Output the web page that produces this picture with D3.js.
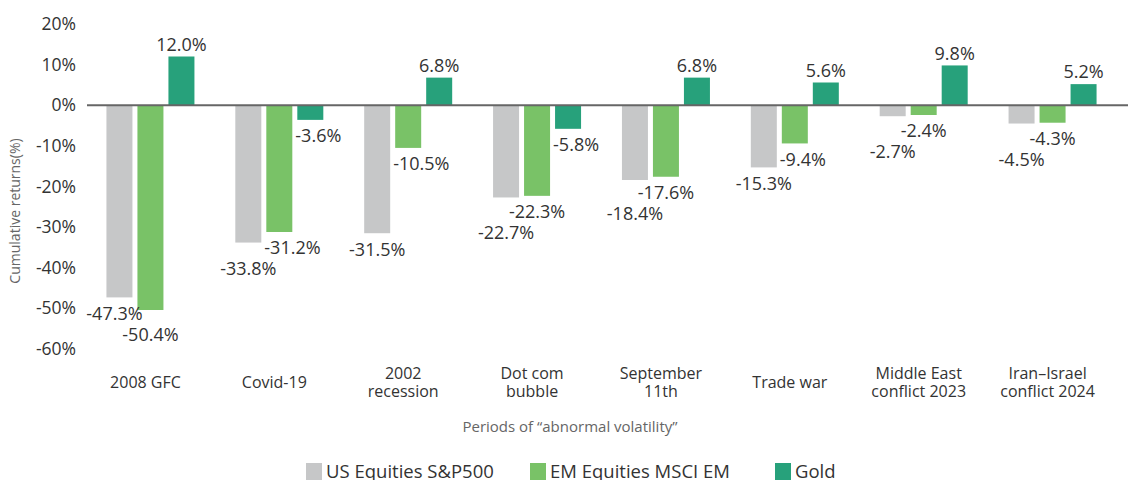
<!DOCTYPE html>
<html><head><meta charset="utf-8">
<script src="https://cdn.jsdelivr.net/npm/d3@7"></script>
<style>
html,body{margin:0;padding:0;background:#fff;}
svg{display:block;font-family:"Open Sans",sans-serif;}
</style></head>
<body>
<svg id="chart" width="1128" height="480"></svg>
<script>
const categories = [["2008 GFC"],["Covid-19"],["2002","recession"],["Dot com","bubble"],["September","11th"],["Trade war"],["Middle East","conflict 2023"],["Iran\u2013Israel","conflict 2024"]];
const seriesNames = ["US Equities S&P500","EM Equities MSCI EM","Gold"];
const usEquities = [-47.3,-33.8,-31.5,-22.7,-18.4,-15.3,-2.7,-4.5];
const emEquities = [-50.4,-31.2,-10.5,-22.3,-17.6,-9.4,-2.4,-4.3];
const gold = [12.0,-3.6,6.8,-5.8,6.8,5.6,9.8,5.2];
const yTicks = [20,10,0,-10,-20,-30,-40,-50,-60];
const colors = ["#c6c7c8","#79c267","#27a17b"];

const svg = d3.select("#chart");
const x = d3.scaleBand().domain(d3.range(categories.length)).range([86,1117]);
const y = d3.scaleLinear().domain([-60,20]).range([349,24]);
const barW = 26, gap = 5;
const sub = d3.scaleBand().domain([0,1,2]).range([0, 3*barW+2*gap]).paddingInner(gap/(barW+gap));
const series = [usEquities, emEquities, gold];

// y axis
const yAxis = svg.append("g").attr("transform","translate(76,0)")
  .call(d3.axisLeft(y).tickValues(yTicks).tickSize(0).tickFormat(d=>d+"%"));
yAxis.select(".domain").remove();
yAxis.selectAll("text").attr("x",0).attr("font-size",17.5).attr("fill","#333").attr("font-family","'Open Sans',sans-serif");

// bars
const groupOffset = (x.bandwidth() - (3*barW+2*gap))/2;
const labels = [];
const rects = [];
categories.forEach((c,i)=>{
  series.forEach((s,j)=>{
    const v = s[i];
    const bx = x(i)+groupOffset+sub(j);
    const r = {i,j,x0:bx,x1:bx+sub.bandwidth(),y0:y(Math.max(0,v)),y1:y(Math.min(0,v))};
    rects.push(r);
    svg.append("rect").attr("x",bx).attr("width",sub.bandwidth())
      .attr("y", r.y0).attr("height", r.y1-r.y0)
      .attr("fill",colors[j]);
    labels.push({i,j,v,cx:bx+sub.bandwidth()/2, cy: v>=0 ? y(v)-12 : y(v)+16});
  });
});
// simple collision avoidance for negative labels of adjacent bars
categories.forEach((c,i)=>{
  const neg = labels.filter(l=>l.i===i && l.v<0).sort((a,b)=>a.cy-b.cy);
  const placed=[];
  neg.forEach(l=>{
    placed.forEach(p=>{
      if (Math.abs(p.j-l.j)===1 && l.cy-p.cy<21) l.cy = p.cy+21;
    });
    placed.push(l);
  });
});
const lab = svg.append("g").selectAll("text").data(labels).join("text")
  .attr("x",d=>d.cx).attr("y",d=>d.cy).attr("dy","0.35em")
  .attr("text-anchor","middle").attr("font-size",18).attr("fill","#333")
  .text(d=>d.v.toFixed(1)+"%");
// nudge labels horizontally away from neighbouring bars
lab.each(function(d){
  const w = this.getComputedTextLength();
  let left = d.cx - w/2, right = d.cx + w/2;
  const top = d.cy - 8, bot = d.cy + 8;
  rects.filter(r=>r.i===d.i && r.j!==d.j).forEach(r=>{
    if (r.y1 > top && r.y0 < bot && r.x1 > left && r.x0 < right) {
      if (r.j < d.j) { const s = Math.min(16, r.x1 + 3 - left); d.cx += s; left += s; right += s; }
      else { const s = Math.min(5, right - (r.x0 - 3)); d.cx -= s; left -= s; right -= s; }
    }
  });
  d3.select(this).attr("x", d.cx);
});

// zero line
svg.append("line").attr("x1",87).attr("x2",1128).attr("y1",y(0)).attr("y2",y(0))
  .attr("stroke","#666").attr("stroke-width",2);

// category labels
categories.forEach((c,i)=>{
  const cx = x(i)+x.bandwidth()/2 - 5;
  const startY = 382 - (c.length-1)*9;
  c.forEach((line,k)=>{
    svg.append("text").attr("text-anchor","middle").attr("font-size",16).attr("fill","#333")
      .attr("x", cx).attr("y", startY + k*18).attr("dy","0.35em").text(line);
  });
});

// axis titles
svg.append("text").attr("x",570).attr("y",427).attr("dy","0.35em").attr("text-anchor","middle")
  .attr("font-size",15).attr("fill","#666").text("Periods of \u201cabnormal volatility\u201d");
svg.append("text").attr("transform","translate(15,211) rotate(-90)").attr("dy","0.35em").attr("text-anchor","middle")
  .attr("font-size",14).attr("fill","#666").text("Cumulative returns(%)");

// legend
const legX = [306,530,775];
seriesNames.forEach((n,j)=>{
  svg.append("rect").attr("x",legX[j]).attr("y",463).attr("width",16).attr("height",17).attr("fill",colors[j]);
  svg.append("text").attr("x",legX[j]+20).attr("y",472).attr("dy","0.35em").attr("font-size",18.5).attr("fill","#333").text(n);
});
</script>
</body></html>
